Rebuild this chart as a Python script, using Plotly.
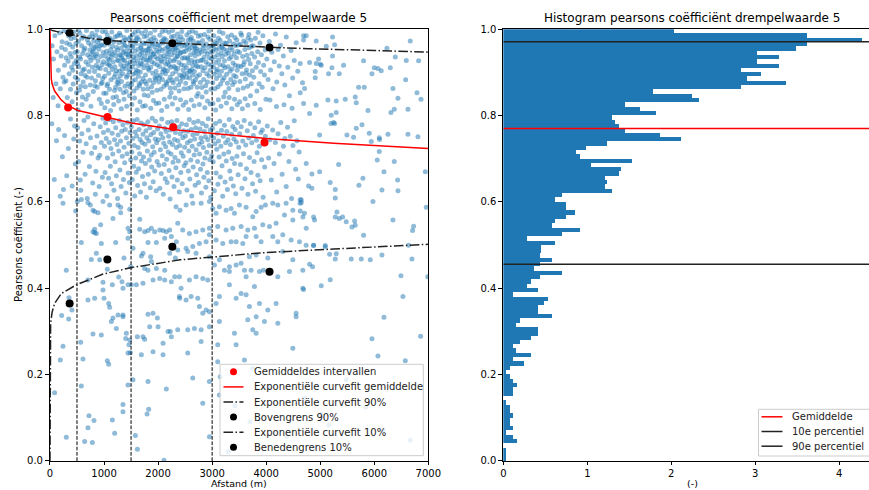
import plotly.graph_objects as go

# ---------------------------------------------------------------------------
# Puntenwolk: (afstand [m], Pearsons coëfficiënt [-]) per gebied van de grafiek
# ---------------------------------------------------------------------------
wolk_hoog = [
    (40,0.962),(65,0.931),(90,0.985),(110,0.874),(130,0.948),(155,0.905),(175,0.992),(190,0.862),(205,0.938),(225,0.971),(240,0.889),(60,0.842),(150,0.823),(215,0.958),
    (260,0.997),(270,0.917),(285,0.953),(295,0.881),(310,0.968),(320,0.842),(335,0.926),(345,0.985),(355,0.897),(370,0.944),(380,0.861),(390,0.978),(400,0.912),(410,0.832),(420,0.959),(430,0.873),(440,0.994),(450,0.921),(460,0.946),(470,0.889),(480,0.967),(490,0.853),(265,0.878),(300,0.934),(325,0.993),(365,0.965),(395,0.936),(425,0.905),(455,0.981),(485,0.928),
    (505,0.948),(515,0.884),(525,0.972),(535,0.913),(545,0.859),(555,0.991),(565,0.931),(575,0.897),(585,0.962),(595,0.826),(605,0.944),(615,0.878),(625,0.983),(635,0.908),(645,0.956),(655,0.867),(665,0.924),(675,0.997),(685,0.889),(695,0.941),(705,0.848),(715,0.968),(725,0.902),(735,0.935),(745,0.871),(510,0.921),(530,0.998),(550,0.936),(570,0.868),(590,0.979),(610,0.905),(630,0.952),(650,0.893),(670,0.838),(690,0.976),(710,0.918),(730,0.982),(740,0.952),(520,0.813),(600,0.843),
    (755,0.928),(762,0.963),(770,0.887),(778,0.991),(786,0.912),(794,0.948),(802,0.856),(810,0.973),(818,0.934),(826,0.902),(834,0.958),(842,0.881),(850,0.986),(858,0.917),(866,0.943),(874,0.866),(882,0.971),(890,0.927),(898,0.893),(906,0.954),(914,0.838),(922,0.981),(930,0.909),(938,0.937),(946,0.874),(954,0.964),(962,0.918),(970,0.995),(978,0.886),(986,0.946),(994,0.852),(758,0.822),(805,0.954),(845,0.938),(885,0.911),(925,0.962),(965,0.877),(790,0.982),(830,0.869),(870,0.998),(910,0.976),(950,0.828),(990,0.925),(775,0.943),(860,0.962),
    (1004,0.963),(1011,0.891),(1018,0.938),(1025,0.976),(1032,0.907),(1039,0.852),(1046,0.949),(1053,0.921),(1060,0.987),(1067,0.873),(1074,0.932),(1081,0.966),(1088,0.898),(1095,0.944),(1102,0.861),(1109,0.979),(1116,0.915),(1123,0.953),(1130,0.883),(1137,0.936),(1144,0.994),(1151,0.907),(1158,0.961),(1165,0.842),(1172,0.925),(1179,0.971),(1186,0.889),(1193,0.947),(1200,0.913),(1207,0.983),(1214,0.866),(1221,0.939),(1228,0.904),(1235,0.958),(1242,0.877),(1249,0.929),(1015,0.818),(1065,0.833),(1120,0.812),(1180,0.826),(1230,0.844),(1030,0.995),(1090,0.918),(1150,0.942),(1210,0.896),(1245,0.985),(1055,0.869),(1135,0.975),(1195,0.858),(1100,0.929),
    (1254,0.952),(1261,0.884),(1268,0.927),(1275,0.969),(1282,0.903),(1289,0.941),(1296,0.861),(1303,0.986),(1310,0.918),(1317,0.956),(1324,0.879),(1331,0.934),(1338,0.972),(1345,0.897),(1352,0.946),(1359,0.853),(1366,0.915),(1373,0.981),(1380,0.928),(1387,0.868),(1394,0.962),(1401,0.909),(1408,0.943),(1415,0.889),(1422,0.997),(1429,0.921),(1436,0.958),(1443,0.874),(1450,0.936),(1457,0.978),(1464,0.901),(1471,0.949),(1478,0.867),(1485,0.924),(1492,0.965),(1270,0.834),(1320,0.816),(1370,0.838),(1420,0.822),(1470,0.846),(1285,0.991),(1335,0.908),(1385,0.949),(1435,0.893),(1490,0.983),(1265,0.873),(1315,0.939),(1365,0.965),(1410,0.856),(1460,0.917),(1300,0.892),(1350,0.929),(1400,0.975),(1445,0.941),(1480,0.907),
    (1504,0.944),(1511,0.872),(1518,0.961),(1525,0.913),(1532,0.988),(1539,0.896),(1546,0.935),(1553,0.857),(1560,0.973),(1567,0.921),(1574,0.949),(1581,0.883),(1588,0.967),(1595,0.906),(1602,0.938),(1609,0.864),(1616,0.982),(1623,0.927),(1630,0.954),(1637,0.891),(1644,0.916),(1651,0.976),(1658,0.869),(1665,0.942),(1672,0.901),(1679,0.963),(1686,0.934),(1693,0.878),(1700,0.991),(1707,0.919),(1714,0.952),(1721,0.886),(1728,0.929),(1735,0.968),(1742,0.848),(1515,0.826),(1565,0.841),(1615,0.813),(1665,0.832),(1715,0.822),(1535,0.958),(1585,0.899),(1635,0.996),(1685,0.957),(1735,0.911),(1550,0.929),(1600,0.978),(1650,0.874),(1700,0.946),(1745,0.983),(1525,0.881),(1575,0.994),(1625,0.903),(1675,0.921),(1725,0.861),
    (1754,0.938),(1761,0.967),(1768,0.894),(1775,0.951),(1782,0.873),(1789,0.985),(1796,0.917),(1803,0.945),(1810,0.862),(1817,0.928),(1824,0.973),(1831,0.905),(1838,0.956),(1845,0.882),(1852,0.934),(1859,0.991),(1866,0.912),(1873,0.948),(1880,0.867),(1887,0.925),(1894,0.969),(1901,0.898),(1908,0.942),(1915,0.876),(1922,0.981),(1929,0.921),(1936,0.959),(1943,0.888),(1950,0.936),(1957,0.974),(1964,0.903),(1971,0.951),(1978,0.859),(1985,0.918),(1992,0.964),(1765,0.823),(1815,0.846),(1865,0.817),(1915,0.835),(1965,0.828),(1770,0.996),(1820,0.909),(1870,0.977),(1920,0.943),(1975,0.893),(1790,0.929),(1840,0.962),(1890,0.854),(1940,0.998),(1990,0.931),(1760,0.879),(1810,0.953),(1860,0.936),(1905,0.966),(1955,0.884),
    (2004,0.947),(2011,0.878),(2018,0.963),(2025,0.914),(2032,0.986),(2039,0.893),(2046,0.937),(2053,0.861),(2060,0.972),(2067,0.924),(2074,0.951),(2081,0.884),(2088,0.968),(2095,0.908),(2102,0.939),(2109,0.868),(2116,0.979),(2123,0.931),(2130,0.955),(2137,0.897),(2144,0.919),(2151,0.975),(2158,0.872),(2165,0.944),(2172,0.904),(2179,0.961),(2186,0.936),(2193,0.881),(2200,0.993),(2207,0.917),(2214,0.953),(2221,0.889),(2228,0.927),(2235,0.966),(2242,0.853),(2015,0.829),(2065,0.812),(2115,0.838),(2165,0.821),(2215,0.843),(2035,0.955),(2085,0.901),(2135,0.997),(2185,0.959),(2235,0.912),(2050,0.928),(2100,0.976),(2150,0.877),(2200,0.948),(2245,0.982),(2025,0.887),(2075,0.995),(2125,0.906),(2175,0.923),(2225,0.864),
    (2254,0.941),(2261,0.969),(2268,0.897),(2275,0.953),(2282,0.876),(2289,0.984),(2296,0.914),(2303,0.946),(2310,0.864),(2317,0.931),(2324,0.972),(2331,0.902),(2338,0.958),(2345,0.885),(2352,0.937),(2359,0.989),(2366,0.909),(2373,0.951),(2380,0.871),(2387,0.923),(2394,0.967),(2401,0.894),(2408,0.944),(2415,0.879),(2422,0.983),(2429,0.918),(2436,0.961),(2443,0.891),(2450,0.933),(2457,0.976),(2464,0.906),(2471,0.948),(2478,0.862),(2485,0.916),(2492,0.963),(2265,0.827),(2315,0.841),(2365,0.815),(2415,0.837),(2465,0.824),(2270,0.997),(2320,0.911),(2370,0.978),(2420,0.946),(2475,0.896),(2290,0.927),(2340,0.964),(2390,0.857),(2440,0.995),(2490,0.934),(2260,0.882),(2310,0.956),(2360,0.939),(2405,0.968),(2455,0.887),
    (2504,0.949),(2511,0.875),(2518,0.966),(2525,0.911),(2532,0.987),(2539,0.898),(2546,0.934),(2553,0.863),(2560,0.975),(2567,0.922),(2574,0.953),(2581,0.887),(2588,0.965),(2595,0.904),(2602,0.941),(2609,0.866),(2616,0.981),(2623,0.928),(2630,0.957),(2637,0.894),(2644,0.917),(2651,0.973),(2658,0.874),(2665,0.946),(2672,0.902),(2679,0.962),(2686,0.938),(2693,0.883),(2700,0.992),(2707,0.915),(2714,0.955),(2721,0.891),(2728,0.926),(2735,0.969),(2742,0.851),(2515,0.831),(2565,0.814),(2615,0.836),(2665,0.823),(2715,0.845),(2535,0.957),(2585,0.903),(2635,0.996),(2685,0.958),(2735,0.913),(2550,0.931),(2600,0.977),(2650,0.879),(2700,0.949),(2745,0.984),(2525,0.889),(2575,0.993),(2625,0.907),(2675,0.924),(2725,0.866),
    (2754,0.943),(2761,0.968),(2768,0.895),(2775,0.952),(2782,0.877),(2789,0.986),(2796,0.913),(2803,0.947),(2810,0.865),(2817,0.929),(2824,0.974),(2831,0.904),(2838,0.957),(2845,0.884),(2852,0.935),(2859,0.988),(2866,0.911),(2873,0.949),(2880,0.869),(2887,0.924),(2894,0.966),(2901,0.897),(2908,0.943),(2915,0.878),(2922,0.982),(2929,0.919),(2936,0.958),(2943,0.892),(2950,0.934),(2957,0.977),(2964,0.905),(2971,0.947),(2978,0.861),(2985,0.917),(2992,0.962),(2765,0.826),(2815,0.843),(2865,0.818),(2915,0.834),(2965,0.827),(2790,0.928),(2840,0.963),(2890,0.855),(2940,0.996),(2990,0.932),
    (3004,0.948),(3011,0.876),(3018,0.964),(3025,0.912),(3032,0.985),(3039,0.896),(3046,0.936),(3053,0.862),(3060,0.971),(3067,0.923),(3074,0.952),(3081,0.886),(3088,0.967),(3095,0.907),(3102,0.941),(3109,0.867),(3116,0.979),(3123,0.929),(3130,0.956),(3137,0.893),(3144,0.918),(3151,0.974),(3158,0.873),(3165,0.945),(3172,0.903),(3179,0.963),(3186,0.937),(3193,0.882),(3200,0.991),(3207,0.916),(3214,0.954),(3221,0.888),(3228,0.927),(3235,0.968),(3242,0.854),(3015,0.828),(3065,0.813),(3115,0.837),(3165,0.822),(3215,0.844),(3035,0.956),(3085,0.902),(3135,0.995),(3185,0.958),(3235,0.911),
    (3254,0.942),(3261,0.967),(3268,0.896),(3275,0.951),(3282,0.875),(3289,0.983),(3296,0.913),(3303,0.945),(3310,0.863),(3317,0.932),(3324,0.973),(3331,0.903),(3338,0.957),(3345,0.884),(3352,0.936),(3359,0.987),(3366,0.908),(3373,0.952),(3380,0.872),(3387,0.922),(3394,0.966),(3401,0.893),(3408,0.943),(3415,0.878),(3422,0.981),(3429,0.917),(3436,0.962),(3443,0.890),(3450,0.934),(3457,0.975),(3464,0.905),(3471,0.949),(3478,0.860),(3485,0.915),(3492,0.964),(3265,0.829),(3315,0.842),(3365,0.816),(3415,0.838),(3465,0.825),
    (3505,0.946),(3515,0.879),(3525,0.965),(3535,0.914),(3545,0.986),(3555,0.897),(3565,0.937),(3575,0.864),(3585,0.973),(3595,0.925),(3605,0.953),(3615,0.885),(3625,0.969),(3635,0.906),(3645,0.940),(3655,0.868),(3665,0.980),(3675,0.930),(3685,0.957),(3695,0.894),(3705,0.920),(3715,0.975),(3725,0.874),(3735,0.944),(3745,0.904),(3510,0.832),(3560,0.816),(3610,0.839),(3660,0.824),(3710,0.846),(3530,0.991),(3580,0.918),(3630,0.898),(3680,0.988),(3730,0.961),
    (3758,0.962),(3772,0.889),(3786,0.936),(3800,0.979),(3814,0.912),(3828,0.857),(3842,0.948),(3856,0.923),(3870,0.874),(3884,0.968),(3898,0.902),(3912,0.941),(3926,0.866),(3940,0.985),(3954,0.917),(3968,0.894),(3982,0.952),(3996,0.838),(3790,0.828),(3890,0.814),(3850,0.993),
    (4012,0.931),(4035,0.884),(4058,0.972),(4081,0.906),(4104,0.947),(4127,0.862),(4150,0.925),(4173,0.989),(4196,0.878),(4219,0.953),(4242,0.915),(4070,0.836),(4190,0.821),
    (4265,0.963),(4290,0.897),(4318,0.938),(4345,0.871),(4372,0.982),(4400,0.912),(4430,0.846),(4460,0.951),(4490,0.887),(4520,0.928),(4555,0.969),(4585,0.903),(4330,0.825),(4480,0.817),
]

wolk_midden = [
    (35,0.781),(80,0.652),(120,0.742),(160,0.768),(190,0.613),(230,0.705),(270,0.754),(310,0.661),(340,0.724),(380,0.792),(410,0.637),(440,0.746),(470,0.688),(250,0.629),(455,0.776),
    (510,0.772),(530,0.694),(550,0.741),(570,0.627),(590,0.758),(610,0.715),(630,0.789),(650,0.664),(670,0.735),(690,0.608),(710,0.767),(730,0.682),(750,0.749),(770,0.713),(790,0.644),(810,0.781),(830,0.726),(850,0.671),(870,0.753),(890,0.702),(910,0.636),(930,0.774),(950,0.738),(970,0.657),(990,0.761),(560,0.651),(700,0.797),(840,0.618),(920,0.708),(980,0.794),
    (1008,0.729),(1019,0.668),(1030,0.783),(1041,0.747),(1052,0.614),(1063,0.702),(1074,0.766),(1085,0.655),(1096,0.738),(1107,0.791),(1118,0.683),(1129,0.724),(1140,0.642),(1151,0.759),(1162,0.711),(1173,0.786),(1184,0.627),(1195,0.744),(1206,0.693),(1217,0.772),(1228,0.661),(1239,0.733),(1250,0.608),(1261,0.755),(1272,0.718),(1283,0.789),(1294,0.674),(1305,0.741),(1316,0.636),(1327,0.764),(1338,0.706),(1349,0.779),(1360,0.652),(1371,0.727),(1382,0.691),(1393,0.768),(1404,0.621),(1415,0.749),(1426,0.712),(1437,0.784),(1448,0.667),(1459,0.736),(1470,0.645),(1481,0.761),(1492,0.698),
    (1505,0.774),(1514,0.716),(1523,0.652),(1532,0.747),(1541,0.788),(1550,0.683),(1559,0.731),(1568,0.614),(1577,0.762),(1586,0.702),(1595,0.669),(1604,0.753),(1613,0.791),(1622,0.638),(1631,0.726),(1640,0.677),(1649,0.768),(1658,0.712),(1667,0.745),(1676,0.623),(1685,0.783),(1694,0.695),(1703,0.738),(1712,0.659),(1721,0.757),(1730,0.704),(1739,0.779),(1748,0.642),(1757,0.734),(1766,0.689),(1775,0.765),(1784,0.611),(1793,0.749),(1802,0.718),(1811,0.786),(1820,0.664),(1829,0.741),(1838,0.697),(1847,0.772),(1856,0.633),(1865,0.756),(1874,0.709),(1883,0.681),(1892,0.794),(1901,0.728),(1910,0.647),(1919,0.761),(1928,0.715),(1937,0.672),(1946,0.746),(1955,0.787),(1964,0.626),(1973,0.737),(1982,0.694),(1991,0.769),
    (2006,0.744),(2015,0.685),(2024,0.776),(2033,0.632),(2042,0.721),(2051,0.758),(2060,0.666),(2069,0.792),(2078,0.707),(2087,0.749),(2096,0.618),(2105,0.736),(2114,0.687),(2123,0.771),(2132,0.654),(2141,0.728),(2150,0.763),(2159,0.699),(2168,0.645),(2177,0.784),(2186,0.716),(2195,0.752),(2204,0.673),(2213,0.739),(2222,0.607),(2231,0.767),(2240,0.711),(2249,0.786),(2258,0.658),(2267,0.733),(2276,0.692),(2285,0.778),(2294,0.636),(2303,0.745),(2312,0.703),(2321,0.761),(2330,0.679),(2339,0.726),(2348,0.789),(2357,0.651),(2366,0.742),(2375,0.695),(2384,0.773),(2393,0.623),(2402,0.731),(2411,0.758),(2420,0.668),(2429,0.714),(2438,0.781),(2447,0.642),(2456,0.749),(2465,0.706),(2474,0.765),(2483,0.684),(2492,0.727),
    (2506,0.753),(2515,0.691),(2524,0.779),(2533,0.628),(2542,0.737),(2551,0.764),(2560,0.672),(2569,0.718),(2578,0.791),(2587,0.653),(2596,0.742),(2605,0.697),(2614,0.768),(2623,0.614),(2632,0.729),(2641,0.756),(2650,0.681),(2659,0.784),(2668,0.709),(2677,0.746),(2686,0.639),(2695,0.772),(2704,0.721),(2713,0.663),(2722,0.758),(2731,0.694),(2740,0.787),(2749,0.645),(2758,0.734),(2767,0.711),(2776,0.769),(2785,0.676),(2794,0.748),(2803,0.621),(2812,0.739),(2821,0.782),(2830,0.688),(2839,0.726),(2848,0.657),(2857,0.763),(2866,0.702),(2875,0.751),(2884,0.634),(2893,0.776),(2902,0.715),(2911,0.668),(2920,0.744),(2929,0.793),(2938,0.649),(2947,0.731),(2956,0.698),(2965,0.767),(2974,0.611),(2983,0.753),(2992,0.707),
    (3008,0.771),(3019,0.693),(3030,0.748),(3041,0.626),(3052,0.735),(3063,0.782),(3074,0.667),(3085,0.722),(3096,0.759),(3107,0.641),(3118,0.741),(3129,0.704),(3140,0.787),(3151,0.658),(3162,0.729),(3173,0.766),(3184,0.684),(3195,0.613),(3206,0.752),(3217,0.711),(3228,0.778),(3239,0.646),(3250,0.737),(3261,0.695),(3272,0.763),(3283,0.629),(3294,0.744),(3305,0.716),(3316,0.791),(3327,0.672),(3338,0.733),(3349,0.654),(3360,0.757),(3371,0.701),(3382,0.775),(3393,0.637),(3404,0.746),(3415,0.689),(3426,0.768),(3437,0.619),(3448,0.739),(3459,0.706),(3470,0.784),(3481,0.663),(3492,0.727),
    (3510,0.758),(3524,0.687),(3538,0.774),(3552,0.632),(3566,0.741),(3580,0.712),(3594,0.789),(3608,0.654),(3622,0.732),(3636,0.677),(3650,0.765),(3664,0.618),(3678,0.748),(3692,0.703),(3706,0.781),(3720,0.668),(3734,0.737),(3748,0.642),(3762,0.754),(3776,0.694),(3790,0.772),(3804,0.625),(3818,0.743),(3832,0.714),(3846,0.662),(3860,0.786),(3874,0.729),(3888,0.649),(3902,0.761),(3916,0.698),(3930,0.767),(3944,0.611),(3958,0.735),(3972,0.681),(3986,0.752),
    (4020,0.776),(4045,0.702),(4070,0.744),(4095,0.651),(4120,0.767),(4145,0.689),(4170,0.738),(4195,0.623),(4220,0.758),(4245,0.711),(4270,0.784),(4295,0.664),(4320,0.729),(4345,0.747),(4370,0.636),(4395,0.773),(4420,0.694),(4445,0.752),(4470,0.608),(4495,0.731),(4520,0.788),(4545,0.676),(4570,0.742),(4595,0.653),(4610,0.716),
]

wolk_laag_links = [
    (241,0.597),(475,0.579),(506,0.601),(580,0.606),(703,0.598),(747,0.593),(796,0.581),(827,0.578),(889,0.575),(981,0.601),(1104,0.593),(1166,0.562),(1259,0.593),(1308,0.588),(1308,0.575),(1475,0.583),(1475,0.531),(1444,0.539),(1660,0.560),(1660,0.537),(1752,0.531),(1814,0.534),(1876,0.539),(1937,0.531),(2030,0.535),(2092,0.534),(2153,0.531),(2215,0.535),
    (827,0.537),(827,0.529),(858,0.527),(938,0.547),(796,0.531),(580,0.506),(950,0.504),(1216,0.506),(1444,0.516),(1536,0.493),(1721,0.481),(1691,0.475),(1814,0.506),(1968,0.506),(2123,0.516),(2246,0.520),(2338,0.508),(1863,0.473),(1876,0.462),(1968,0.446),(2215,0.481),(1814,0.442),(2123,0.442),(2320,0.470),
    (765,0.467),(858,0.481),(919,0.466),(1061,0.467),(1370,0.470),(1493,0.450),(703,0.419),(981,0.414),(1061,0.444),(1154,0.408),(1271,0.426),(1333,0.415),(1351,0.400),(1444,0.408),(1506,0.408),(1598,0.408),(1721,0.412),(1752,0.446),(1907,0.419),(2030,0.423),(2123,0.419),(2246,0.415),(2308,0.427),(2400,0.377),
    (302,0.442),(352,0.378),(216,0.337),(346,0.329),(407,0.350),(703,0.373),(827,0.377),(981,0.396),(1000,0.377),(1086,0.365),(1104,0.356),(1135,0.323),(1166,0.331),(1259,0.338),(1351,0.338),(1351,0.334),(1228,0.307),(1413,0.296),(1401,0.284),(1475,0.280),(1462,0.269),(1487,0.251),(1444,0.250),(1617,0.288),(1721,0.288),(1752,0.282),(1691,0.246),(1907,0.253),(2092,0.246),(2184,0.300),(2246,0.288),(2092,0.273),(2000,0.311),(1907,0.342),(1845,0.311),(1814,0.340),(1987,0.331),(2227,0.300),
    (241,0.266),(191,0.234),(568,0.275),(611,0.236),(796,0.294),(950,0.292),(1061,0.232),(1086,0.224),(1444,0.176),(1536,0.188),(1814,0.184),(2153,0.167),(580,0.174),(86,0.158),(722,0.105),(814,0.094),(703,0.077),(1154,0.095),(1351,0.131),(1351,0.114),(1197,0.064),(1580,0.059),(1617,0.027),(1826,0.120),(1796,0.109),(2110,0.002),(302,0.055),(642,0.045),(784,0.043),
]

wolk_laag_midden = [
    (2333,0.589),(2407,0.581),(2518,0.593),(2642,0.597),(2796,0.597),(2950,0.601),(3012,0.585),(3073,0.574),(3135,0.589),(3259,0.581),(3351,0.585),(3413,0.574),(3505,0.593),(3629,0.588),(3752,0.566),(3814,0.578),(3906,0.588),(3987,0.593),(4122,0.597),(4215,0.593),(4369,0.597),(4493,0.581),(4628,0.597),(4628,0.605),(4708,0.574),
    (4493,0.558),(4338,0.570),(4184,0.551),(4061,0.543),(3937,0.547),(3783,0.539),(3660,0.535),(3536,0.543),(3382,0.539),(3259,0.535),(3104,0.543),(2950,0.539),(2827,0.535),(2703,0.531),(2580,0.527),(2456,0.535),(2364,0.551),
    (2518,0.493),(2642,0.497),(2765,0.504),(2888,0.508),(2950,0.524),(3073,0.512),(3197,0.504),(3351,0.508),(3444,0.508),(3567,0.504),(3629,0.520),(3814,0.520),(3906,0.508),(4122,0.520),(4215,0.508),(4307,0.524),(4462,0.512),(4616,0.508),(4739,0.500),
    (2364,0.489),(2549,0.485),(2703,0.481),(2950,0.473),(3043,0.454),(3135,0.466),(3228,0.442),(3320,0.450),(3320,0.439),(3444,0.454),(3536,0.458),(3598,0.442),(3721,0.442),(3876,0.439),(3950,0.442),(4073,0.440),(4215,0.427),(4431,0.439),(4678,0.442),(3629,0.427),(4030,0.470),(3814,0.477),(3690,0.473),(4307,0.485),(4493,0.466),
    (2395,0.427),(2580,0.419),(2703,0.427),(2827,0.423),(2919,0.419),(2395,0.381),(2426,0.400),(2518,0.373),(2611,0.381),(2734,0.377),(2765,0.358),(2827,0.342),(2888,0.350),(2950,0.346),(3073,0.365),(3135,0.381),(3320,0.408),(3444,0.377),(3536,0.388),(3629,0.385),(3690,0.358),(3783,0.404),(3814,0.334),(3876,0.365),(4030,0.350),(4184,0.365),(4215,0.319),(4678,0.400),(4554,0.342),(4554,0.334),
    (2364,0.304),(2549,0.304),(2672,0.307),(2796,0.304),(2950,0.311),(3135,0.323),(3413,0.296),(3660,0.327),(3752,0.304),(3814,0.296),(3968,0.323),(4493,0.261),(3444,0.269),(3104,0.269),(2796,0.277),(2549,0.250),(2642,0.192),(2950,0.184),(3104,0.230),(3598,0.234),(3752,0.215),(3135,0.153),(2827,0.134),(2950,0.056),
]

wolk_rechts = [
    (4692,0.985),(4741,0.985),(4926,0.973),(5228,0.982),(4692,0.975),(6666,0.973),(5111,0.961),(5266,0.964),(6234,0.956),(4630,0.921),(4803,0.923),(4926,0.921),(4969,0.931),(5000,0.919),(5019,0.917),(5228,0.938),(5216,0.911),(5432,0.917),(5154,0.897),(5352,0.897),(4908,0.902),(4908,0.888),
    (5802,0.927),(6000,0.911),(6068,0.909),(6129,0.904),(6296,0.911),(6389,0.936),(6592,0.928),(6820,0.927),(5957,0.897),(6580,0.883),(4673,0.876),(4710,0.863),(5710,0.866),(5815,0.866),(6345,0.863),(4630,0.853),
    (4692,0.828),(4926,0.824),(5142,0.836),(5296,0.834),(5463,0.838),(5648,0.843),(5667,0.830),(6438,0.840),(6790,0.853),(6864,0.838),(5883,0.812),(6308,0.807),(6370,0.815),(6623,0.815),(4803,0.805),(5204,0.801),(5296,0.807),
    (5198,0.782),(5247,0.784),(5266,0.782),(5772,0.779),(5667,0.771),(5494,0.755),(5617,0.750),(4988,0.755),(5907,0.759),(5944,0.740),(6092,0.749),(6098,0.745),(6253,0.757),(6623,0.757),(6808,0.751),(6092,0.717),(6055,0.697),(6370,0.694),(4741,0.689),(5340,0.687),
    (4846,0.665),(4988,0.670),(6179,0.670),(5790,0.655),(5716,0.639),(6432,0.651),(4784,0.637),(4846,0.632),(5185,0.645),(5278,0.629),(6142,0.628),(6438,0.626),(5278,0.609),(5975,0.601),(4649,0.605),(4649,0.599),(4630,0.579),(5309,0.577),(4679,0.565),(4877,0.565),(4895,0.558),(5278,0.565),(5352,0.562),(5414,0.565),(5481,0.554),(5636,0.556),(5648,0.546),(5587,0.542),(4741,0.539),(6345,0.558),(6728,0.544),(6709,0.534),(6962,0.588),(6944,0.670),(5802,0.523),(4877,0.500),(5093,0.499),
    (4877,0.499),(5093,0.496),(5173,0.479),(5296,0.480),(5278,0.468),(5574,0.468),(5760,0.468),(5926,0.466),(6142,0.477),(6635,0.500),(6697,0.468),(4803,0.456),(4858,0.450),(4692,0.397),(5019,0.406),(5185,0.420),(6493,0.429),(6530,0.381),(6990,0.427),(6179,0.333),(5957,0.283),(6857,0.289),(6068,0.243),(6574,0.232),
]

wolk_achter_legenda = [
    (3150,0.195),(3420,0.128),(3700,0.091),(4060,0.172),(4380,0.057),(4710,0.146),(5020,0.108),(5160,0.083),(5480,0.188),(5840,0.125),(6160,0.071),(6666,0.048),(3300,0.022),(4900,0.031),
]

# Gemiddelden en grenzen per afstandsinterval
interval_x_gem = [336, 1065, 2280, 3969]
interval_gem = [0.819, 0.797, 0.773, 0.738]
interval_x_grens = [364, 1062, 2264, 4062]
bovengrens_90 = [0.992, 0.973, 0.9675, 0.958]
benedengrens_10 = [0.365, 0.467, 0.4965, 0.4386]
grens_afstanden = [500, 1500, 3000]

# Curvefits (bemonsterd langs de afstand)
fit_gem_x = [0, 3, 8, 15, 25, 40, 87, 210, 333, 518, 750, 1074, 1506, 2400, 3000, 4000, 5250, 7000]
fit_gem_y = [1.0, 0.97, 0.93, 0.90, 0.885, 0.873, 0.857, 0.836, 0.823, 0.812, 0.805, 0.797, 0.783, 0.766, 0.759, 0.747, 0.736, 0.724]
fit_90_x = [0, 50, 150, 364, 700, 1074, 1500, 2400, 3000, 4000, 4778, 6000, 7000]
fit_90_y = [1.0, 0.997, 0.994, 0.989, 0.980, 0.974, 0.971, 0.967, 0.964, 0.959, 0.955, 0.951, 0.947]
fit_10_x = [0, 1, 3, 8, 12, 40, 86, 210, 488, 981, 1506, 2407, 3000, 4000, 5250, 7000]
fit_10_y = [0.0, 0.15, 0.24, 0.29, 0.319, 0.345, 0.365, 0.388, 0.408, 0.433, 0.448, 0.466, 0.472, 0.483, 0.491, 0.502]

# Histogram: dichtheid per klasse van 0.01 (van 0.00 tot 1.00)
klasse_breedte = 0.01
dichtheid = [
    0.036, 0.036, 0.036, 0.0, 0.167, 0.119, 0.040, 0.119, 0.079, 0.079,
    0.119, 0.079, 0.079, 0.040, 0.0, 0.119, 0.119, 0.167, 0.119, 0.079,
    0.040, 0.079, 0.246, 0.119, 0.333, 0.159, 0.119, 0.198, 0.333, 0.413,
    0.413, 0.159, 0.198, 0.579, 0.413, 0.413, 0.492, 0.532, 0.119, 0.413,
    0.286, 0.333, 0.444, 0.702, 0.365, 0.444, 0.579, 0.444, 0.448, 0.448,
    0.615, 0.286, 0.702, 0.913, 0.583, 0.615, 0.746, 0.861, 0.746, 0.746,
    0.615, 0.702, 1.294, 1.210, 1.242, 1.210, 1.377, 1.409, 1.044, 1.540,
    0.913, 0.873, 0.992, 1.242, 2.119, 1.873, 1.456, 1.377, 1.329, 1.298,
    1.825, 1.627, 1.456, 2.333, 2.250, 1.786, 2.829, 3.373, 2.909, 3.075,
    2.829, 3.286, 3.028, 3.286, 3.028, 3.484, 3.619, 4.278, 3.619, 2.036,
]
gemiddelde = 0.770
percentiel_10 = 0.456
percentiel_90 = 0.971

BLAUW = "#1f77b4"
ZWART = "#222222"
FONT = "DejaVu Sans"
B, H = 869, 490
DASHDOT = "9.6px,2.4px,1.5px,2.4px"

groepen = [wolk_hoog, wolk_midden, wolk_laag_links, wolk_laag_midden, wolk_rechts, wolk_achter_legenda]
afstand = [p[0] for g in groepen for p in g]
pearson = [p[1] for g in groepen for p in g]

fig = go.Figure()

# --- linker paneel -----------------------------------------------------------
fig.add_trace(go.Scatter(
    x=afstand, y=pearson, mode="markers",
    marker=dict(size=5, color=BLAUW, opacity=0.5, line=dict(width=0)),
    showlegend=False, hoverinfo="skip", xaxis="x", yaxis="y"))

for g in grens_afstanden:
    fig.add_trace(go.Scatter(
        x=[g, g], y=[0, 1], mode="lines",
        line=dict(color="black", width=1, dash="3.7px,1.6px"),
        showlegend=False, hoverinfo="skip", xaxis="x", yaxis="y"))

fig.add_trace(go.Scatter(x=fit_gem_x, y=fit_gem_y, mode="lines",
                         line=dict(color="red", width=1.5), showlegend=False,
                         xaxis="x", yaxis="y"))
fig.add_trace(go.Scatter(x=fit_90_x, y=fit_90_y, mode="lines",
                         line=dict(color=ZWART, width=1.5, dash=DASHDOT), showlegend=False,
                         xaxis="x", yaxis="y"))
fig.add_trace(go.Scatter(x=fit_10_x, y=fit_10_y, mode="lines",
                         line=dict(color=ZWART, width=1.5, dash=DASHDOT), showlegend=False,
                         xaxis="x", yaxis="y"))
fig.add_trace(go.Scatter(x=interval_x_gem, y=interval_gem, mode="markers",
                         marker=dict(size=8, color="red"), showlegend=False,
                         xaxis="x", yaxis="y"))
fig.add_trace(go.Scatter(x=interval_x_grens, y=bovengrens_90, mode="markers",
                         marker=dict(size=8, color="black"), showlegend=False,
                         xaxis="x", yaxis="y"))
fig.add_trace(go.Scatter(x=interval_x_grens, y=benedengrens_10, mode="markers",
                         marker=dict(size=8, color="black"), showlegend=False,
                         xaxis="x", yaxis="y"))

# --- rechter paneel: histogram ------------------------------------------------
klasse_midden = [(i + 0.5) * klasse_breedte for i in range(len(dichtheid))]
fig.add_trace(go.Bar(
    y=klasse_midden, x=dichtheid, orientation="h", width=klasse_breedte,
    marker=dict(color=BLAUW, line=dict(width=0)),
    showlegend=False, hoverinfo="skip", xaxis="x2", yaxis="y2"))

x2_max = 4.354
for waarde, kleur in [(gemiddelde, "red"), (percentiel_10, ZWART), (percentiel_90, ZWART)]:
    fig.add_trace(go.Scatter(
        x=[0, x2_max + 0.2], y=[waarde, waarde], mode="lines",
        line=dict(color=kleur, width=1.5), showlegend=False,
        xaxis="x2", yaxis="y2"))


# --- legenda's (in pixelposities van de figuur) --------------------------------
def px(x):
    return x / B


def py(y):
    return 1 - y / H


vormen = []
teksten = []


def legenda(x0, x1, y0, y1, items, icoon_x0, icoon_x1, tekst_x, rij_y0, rij_dy):
    vormen.append(dict(type="rect", xref="paper", yref="paper", layer="above",
                       x0=px(x0), x1=px(x1), y0=py(y1), y1=py(y0),
                       fillcolor="rgba(255,255,255,0.8)",
                       line=dict(color="#cccccc", width=1)))
    for i, (label, soort, kleur, streep) in enumerate(items):
        yc = rij_y0 + i * rij_dy
        if soort == "lijn":
            vormen.append(dict(type="line", xref="paper", yref="paper", layer="above",
                               x0=px(icoon_x0), x1=px(icoon_x1), y0=py(yc), y1=py(yc),
                               line=dict(color=kleur, width=1.5, dash=streep)))
        else:
            xm = (icoon_x0 + icoon_x1) / 2
            vormen.append(dict(type="circle", xref="paper", yref="paper", layer="above",
                               x0=px(xm - 3.5), x1=px(xm + 3.5), y0=py(yc + 3.5), y1=py(yc - 3.5),
                               fillcolor=kleur, line=dict(color=kleur, width=0)))
        teksten.append(dict(text=label, x=px(tekst_x), y=py(yc), xref="paper", yref="paper",
                            showarrow=False, xanchor="left", yanchor="middle",
                            font=dict(family=FONT, size=10, color=ZWART)))


legenda(220, 423.3, 364.3, 455.7, [
    ("Gemiddeldes intervallen", "punt", "red", None),
    ("Exponentiële curvefit gemiddelde", "lijn", "red", "solid"),
    ("Exponentiële curvefit 90%", "lijn", ZWART, DASHDOT),
    ("Bovengrens 90%", "punt", "black", None),
    ("Exponentiële curvefit 10%", "lijn", ZWART, DASHDOT),
    ("Benedengrens 10%", "punt", "black", None),
], 223.5, 243.5, 251.5, 371.8, 15.1)

legenda(758.5, 900, 409.3, 456.0, [
    ("Gemiddelde", "lijn", "red", "solid"),
    ("10e percentiel", "lijn", ZWART, "solid"),
    ("90e percentiel", "lijn", ZWART, "solid"),
], 761.5, 782.5, 789.5, 416.8, 14.7)

as_stijl = dict(showline=True, linecolor="black", linewidth=1, ticks="outside",
                tickwidth=1, tickcolor="black", showgrid=False,
                zeroline=False, automargin=False,
                tickfont=dict(family=FONT, size=10, color="black"))

y_dom = [0.0592, 0.9402]
as_titel = dict(xref="paper", yref="paper", showarrow=False, xanchor="center",
                yanchor="bottom", borderpad=0, font=dict(family=FONT, size=9.5, color="black"))
fig.update_layout(
    width=B, height=H,
    margin=dict(l=0, r=0, t=0, b=0),
    paper_bgcolor="white", plot_bgcolor="white",
    font=dict(family=FONT, size=10, color="black"),
    bargap=0, showlegend=False,
    xaxis=dict(domain=[0.0575, 0.4929], range=[0, 7000], anchor="y", mirror=True, ticklen=3,
               tickvals=[0, 1000, 2000, 3000, 4000, 5000, 6000, 7000], **as_stijl),
    yaxis=dict(domain=y_dom, range=[0, 1], anchor="x", mirror=True, ticklen=4,
               tickvals=[0, 0.2, 0.4, 0.6, 0.8, 1.0], tickformat=".1f", **as_stijl),
    xaxis2=dict(domain=[0.5792, 1.0], range=[0, x2_max], anchor="y2", mirror=True, ticklen=3,
                tickvals=[0, 1, 2, 3, 4], **as_stijl),
    yaxis2=dict(domain=y_dom, range=[0, 1], anchor="x2", mirror=False, ticklen=4,
                tickvals=[0, 0.2, 0.4, 0.6, 0.8, 1.0], tickformat=".1f", **as_stijl),
    shapes=vormen,
    annotations=teksten + [
        dict(text="Pearsons coëfficient met drempelwaarde 5", x=px(239), y=py(18),
             xref="paper", yref="paper", showarrow=False, xanchor="center", yanchor="middle",
             font=dict(family=FONT, size=12, color="black")),
        dict(text="Histogram pearsons coëfficiënt drempelwaarde 5", x=px(692), y=py(18),
             xref="paper", yref="paper", showarrow=False, xanchor="center", yanchor="middle",
             font=dict(family=FONT, size=12, color="black")),
        dict(text="Afstand (m)", x=px(239), y=py(490), **as_titel),
        dict(text="(-)", x=px(692), y=py(490), **as_titel),
        dict(text="Pearsons coëfficiënt (-)", x=px(18), y=py(245), textangle=-90,
             xref="paper", yref="paper", showarrow=False, xanchor="center", yanchor="middle",
             font=dict(family=FONT, size=10, color="black")),
    ],
)

fig.write_html("out.html")
